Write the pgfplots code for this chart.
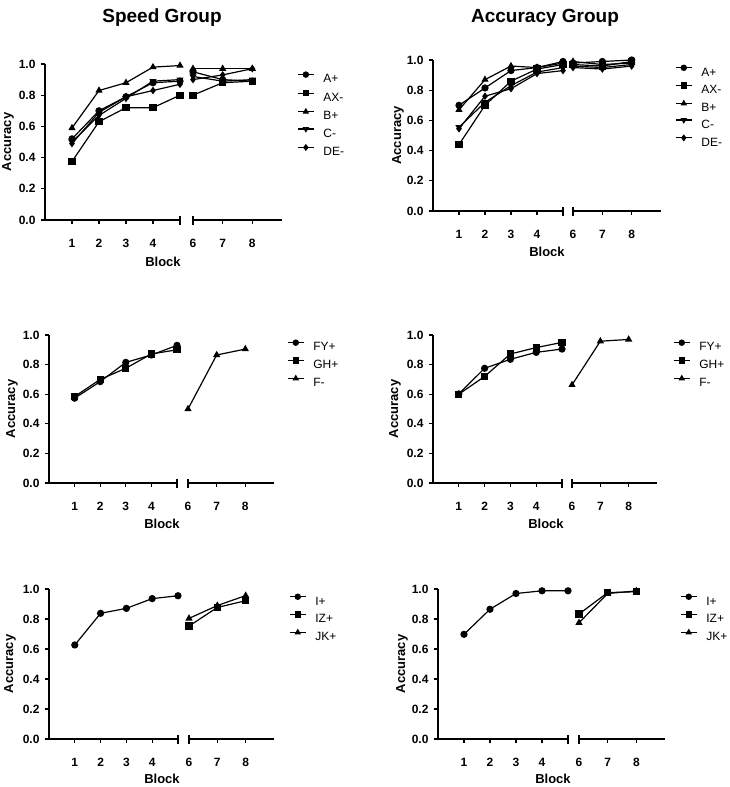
\documentclass[border=0pt]{standalone}
\usepackage{pgfplots}
\pgfplotsset{compat=1.18}
\usepackage{fontspec}
\setmainfont{Liberation Sans}
\pgfplotsset{
  base/.style={scale only axis, ymin=0, ymax=1, clip=false,
    axis line style={line width=1.1pt, -},
    every tick/.style={line width=1.1pt, black},
    tick align=outside, major tick length=4pt,
    tick label style={font=\fontsize{12}{14}\selectfont\bfseries},
    xticklabel style={yshift=-12pt},
    yticklabel style={xshift=-2pt},
    /pgf/number format/assume math mode=true,
    every axis plot/.append style={line width=1.2pt, black, mark size=3pt},
    legend cell align=left,
    legend image code/.code={\draw[##1, mark size=2.6pt, mark repeat=2, mark phase=2] plot coordinates {(0pt,4pt) (8pt,4pt) (16pt,4pt)};},
    legend style={draw=none, fill=none, inner sep=0pt, anchor=north west,
      font=\fontsize{12}{13}\selectfont, column sep=9pt, row sep=7pt,
      nodes={inner sep=0pt, text height=8.5pt, text depth=0pt}},
  },
  leftax/.style={base, xmin=0, xmax=5, axis x line*=bottom, axis y line*=left,
    xtick={1,2,3,4},
    extra x ticks={5}, extra x tick labels={},
    extra x tick style={tick align=center, major tick length=9pt},
    ytick={0,0.2,0.4,0.6,0.8,1.0},
    yticklabel style={/pgf/number format/.cd, fixed, fixed zerofill, precision=1},
  },
  rightax/.style={base, xmin=6, xmax=9, axis x line*=bottom, axis y line=none, ytick=\empty,
    xtick={6,7,8},
    extra x ticks={6}, extra x tick labels={},
    extra x tick style={tick align=center, major tick length=9pt},
  },
  mA/.style={mark=*},
  mB/.style={mark=square*},
  mC/.style={mark=triangle*},
  mD/.style={mark=triangle*, mark options={rotate=180}},
  mE/.style={mark=diamond*, mark size=2.8pt},
}
\begin{document}
\begin{tikzpicture}
\useasboundingbox (0,0) rectangle (730pt,-787pt);
% ---------------- Speed top ----------------
\begin{axis}[leftax, at={(45pt,-220pt)}, anchor=south west, width=135pt, height=156pt]
\addplot[mA] coordinates {(1,0.52)(2,0.70)(3,0.79)(4,0.88)(5,0.89)};
\addplot[mB] coordinates {(1,0.375)(2,0.63)(3,0.72)(4,0.72)(5,0.80)};
\addplot[mC] coordinates {(1,0.59)(2,0.83)(3,0.88)(4,0.98)(5,0.99)};
\addplot[mD] coordinates {(1,0.50)(2,0.67)(3,0.78)(4,0.89)(5,0.90)};
\addplot[mE] coordinates {(1,0.49)(2,0.69)(3,0.79)(4,0.83)(5,0.87)};
\end{axis}
\begin{axis}[rightax, at={(193pt,-220pt)}, anchor=south west, width=89pt, height=156pt,
  legend style={at={(axis description cs:1.169,0.950)}, row sep=7.7pt}]
\addplot[mA] coordinates {(6,0.95)(7,0.90)(8,0.89)};
\addplot[mB] coordinates {(6,0.80)(7,0.88)(8,0.89)};
\addplot[mC] coordinates {(6,0.97)(7,0.97)(8,0.97)};
\addplot[mD] coordinates {(6,0.92)(7,0.89)(8,0.90)};
\addplot[mE] coordinates {(6,0.90)(7,0.93)(8,0.97)};
\legend{A+,AX-,B+,C-,DE-}
\end{axis}
% ---------------- Accuracy top ----------------
\begin{axis}[leftax, at={(433pt,-211pt)}, anchor=south west, width=130pt, height=151pt]
\addplot[mA] coordinates {(1,0.70)(2,0.815)(3,0.93)(4,0.95)(5,0.99)};
\addplot[mB] coordinates {(1,0.44)(2,0.70)(3,0.86)(4,0.94)(5,0.97)};
\addplot[mC] coordinates {(1,0.67)(2,0.87)(3,0.96)(4,0.95)(5,0.98)};
\addplot[mD] coordinates {(1,0.555)(2,0.72)(3,0.83)(4,0.92)(5,0.95)};
\addplot[mE] coordinates {(1,0.545)(2,0.76)(3,0.81)(4,0.91)(5,0.93)};
\end{axis}
\begin{axis}[rightax, at={(573pt,-211pt)}, anchor=south west, width=88pt, height=151pt,
  legend style={at={(axis description cs:1.159,0.967)}}]
\addplot[mA] coordinates {(6,0.98)(7,0.99)(8,1.00)};
\addplot[mB] coordinates {(6,0.97)(7,0.96)(8,0.99)};
\addplot[mC] coordinates {(6,0.99)(7,0.97)(8,0.98)};
\addplot[mD] coordinates {(6,0.96)(7,0.95)(8,0.97)};
\addplot[mE] coordinates {(6,0.95)(7,0.94)(8,0.96)};
\legend{A+,AX-,B+,C-,DE-}
\end{axis}
% ---------------- Speed middle ----------------
\begin{axis}[leftax, at={(49pt,-483pt)}, anchor=south west, width=128pt, height=148pt]
\addplot[mA] coordinates {(1,0.573)(2,0.685)(3,0.815)(4,0.865)(5,0.93)};
\addplot[mB] coordinates {(1,0.584)(2,0.70)(3,0.775)(4,0.872)(5,0.90)};
\end{axis}
\begin{axis}[rightax, at={(188pt,-483pt)}, anchor=south west, width=86pt, height=148pt,
  legend style={at={(axis description cs:1.151,0.967)}}]
\addlegendimage{mA}
\addlegendimage{mB}
\addplot[mC] coordinates {(6,0.50)(7,0.865)(8,0.905)};
\legend{FY+,GH+,F-}
\end{axis}
% ---------------- Accuracy middle ----------------
\begin{axis}[leftax, at={(433pt,-483pt)}, anchor=south west, width=129pt, height=148pt]
\addplot[mA] coordinates {(1,0.602)(2,0.775)(3,0.836)(4,0.883)(5,0.905)};
\addplot[mB] coordinates {(1,0.60)(2,0.72)(3,0.872)(4,0.915)(5,0.95)};
\end{axis}
\begin{axis}[rightax, at={(572pt,-483pt)}, anchor=south west, width=85pt, height=148pt,
  legend style={at={(axis description cs:1.188,0.967)}}]
\addlegendimage{mA}
\addlegendimage{mB}
\addplot[mC] coordinates {(6,0.663)(7,0.958)(8,0.970)};
\legend{FY+,GH+,F-}
\end{axis}
% ---------------- Speed bottom ----------------
\begin{axis}[leftax, at={(49pt,-739pt)}, anchor=south west, width=129pt, height=150pt]
\addplot[mA] coordinates {(1,0.627)(2,0.838)(3,0.871)(4,0.936)(5,0.955)};
\end{axis}
\begin{axis}[rightax, at={(189pt,-739pt)}, anchor=south west, width=85pt, height=150pt,
  legend style={at={(axis description cs:1.176,0.967)}}]
\addlegendimage{mA}
\addplot[mB] coordinates {(6,0.753)(7,0.877)(8,0.922)};
\addplot[mC] coordinates {(6,0.804)(7,0.890)(8,0.956)};
\legend{I+,IZ+,JK+}
\end{axis}
% ---------------- Accuracy bottom ----------------
\begin{axis}[leftax, at={(438pt,-739pt)}, anchor=south west, width=130pt, height=150pt]
\addplot[mA] coordinates {(1,0.698)(2,0.865)(3,0.970)(4,0.988)(5,0.988)};
\end{axis}
\begin{axis}[rightax, at={(579pt,-739pt)}, anchor=south west, width=86pt, height=150pt,
  legend style={at={(axis description cs:1.174,0.967)}}]
\addlegendimage{mA}
\addplot[mB] coordinates {(6,0.833)(7,0.976)(8,0.982)};
\addplot[mC] coordinates {(6,0.775)(7,0.970)(8,0.987)};
\legend{I+,IZ+,JK+}
\end{axis}
% ---------------- text ----------------
\node[font=\fontsize{19}{21}\selectfont\bfseries] at (162pt,-18pt) {Speed Group};
\node[font=\fontsize{19}{21}\selectfont\bfseries] at (545pt,-18pt) {Accuracy Group};
\begin{scope}[every node/.style={font=\fontsize{13}{15}\selectfont\bfseries}]
\node at (163pt,-262pt) {Block};
\node at (547pt,-252pt) {Block};
\node at (162pt,-524pt) {Block};
\node at (546pt,-524pt) {Block};
\node at (162pt,-779pt) {Block};
\node at (553pt,-779pt) {Block};
\node[rotate=90] at (8pt,-142pt) {Accuracy};
\node[rotate=90] at (398pt,-135.5pt) {Accuracy};
\node[rotate=90] at (12pt,-409pt) {Accuracy};
\node[rotate=90] at (395pt,-409pt) {Accuracy};
\node[rotate=90] at (10pt,-664pt) {Accuracy};
\node[rotate=90] at (402pt,-664pt) {Accuracy};
\end{scope}
\end{tikzpicture}
\end{document}
